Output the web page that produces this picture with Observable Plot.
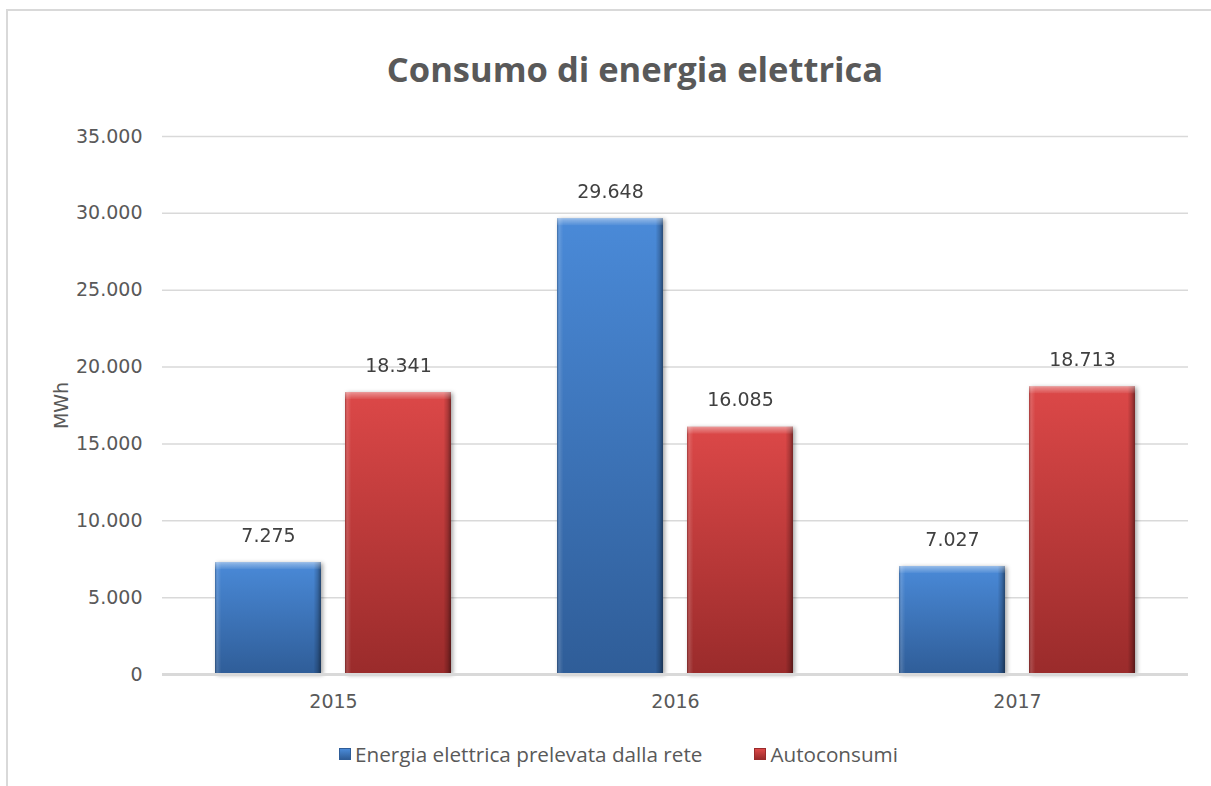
<!DOCTYPE html>
<html lang="it">
<head>
<meta charset="utf-8">
<script src="https://cdn.jsdelivr.net/npm/d3@7"></script>
<script src="https://cdn.jsdelivr.net/npm/@observablehq/plot@0.6"></script>
<style>
  html, body { margin: 0; padding: 0; background: #fff; overflow: hidden; }
  body { width: 1211px; height: 786px; position: relative; }
  #frame {
    position: absolute; left: 6px; top: 9px; right: 0; bottom: 0;
    border-left: 2px solid #d9d9d9; border-top: 2px solid #d9d9d9;
  }
  #title {
    position: absolute; left: 0; top: 47px; width: 1270px; text-align: center;
    font-family: "Open Sans", sans-serif; font-weight: 700; font-size: 34.5px; line-height: 44px;
    color: #595959;
  }
  #chart { position: absolute; left: 0; top: 110px; }
  #legend {
    position: absolute; left: 339px; top: 740px; display: flex; align-items: center;
    font-family: "Open Sans", sans-serif; font-size: 20.7px; color: #595959; line-height: 28px;
  }
  .item { display: flex; align-items: center; }
  .item + .item { margin-left: 52px; }
  .swatch { width: 12px; height: 12px; margin-right: 4px; box-sizing: border-box; }
</style>
</head>
<body>
<div id="frame"></div>
<div id="title">Consumo di energia elettrica</div>
<div id="chart"></div>
<div id="legend"></div>
<script>
// Electricity consumption (MWh) per year
const years = ["2015", "2016", "2017"];
const seriesNames = ["Energia elettrica prelevata dalla rete", "Autoconsumi"];
const prelevata = [7275, 29648, 7027];
const autoconsumi = [18341, 16085, 18713];

const seriesColors = {
  top: ["#4a8ad8", "#dc4848"],
  bottom: ["#2f5d98", "#9a2b2b"]
};

const data = years.flatMap((year, i) => [
  {year, series: seriesNames[0], value: prelevata[i]},
  {year, series: seriesNames[1], value: autoconsumi[i]}
]);

// Italian number format: 35.000
const it = d3.formatLocale({decimal: ",", thousands: ".", grouping: [3], currency: ["", " €"]});
const fmt = it.format(",d");

const chart = Plot.plot({
  width: 1211,
  height: 604,
  marginTop: 26,
  marginBottom: 40,
  marginLeft: 161,
  marginRight: 23,
  style: {fontFamily: "DejaVu Sans, sans-serif", fontSize: "19px", color: "#595959", background: "transparent"},
  fx: {domain: years, padding: 0, axis: null},
  x: {domain: seriesNames, paddingInner: 0.183, paddingOuter: 0.397, axis: null},
  y: {domain: [0, 35000], axis: null},
  color: {domain: seriesNames, range: ["url(#grad-blue)", "url(#grad-red)"]},
  marks: [
    Plot.gridY({ticks: 7, stroke: "#d9d9d9", strokeOpacity: 1, strokeWidth: 1.5}),
    Plot.axisY({
      ticks: 7, tickSize: 0, tickPadding: 20, tickFormat: fmt,
      label: "MWh", labelAnchor: "center", labelOffset: 108, labelArrow: "none",
      fill: "#595959"
    }),
    Plot.axisFx({anchor: "bottom", tickSize: 0, tickPadding: 20, label: null, fill: "#595959"}),
    Plot.barY(data, {fx: "year", x: "series", y: "value", fill: "series"}),
    // side shading of the bevelled bars
    Plot.barY(data, {fx: "year", x: "series", y: "value", fill: "url(#grad-edge)"}),
    // top bevel highlight
    Plot.barY(data, {fx: "year", x: "series", y1: "value", y2: "value", insetBottom: -7, fill: "url(#grad-top)"}),
    Plot.ruleY([0], {stroke: "#d9d9d9", strokeWidth: 3}),
    Plot.text(data, {
      fx: "year", x: "series", y: "value", text: d => fmt(d.value),
      dy: -27, fill: "#404040", fontSize: 19
    })
  ]
});

// gradient definitions used by the bars
const ns = "http://www.w3.org/2000/svg";
const defs = document.createElementNS(ns, "defs");
function linear(id, stops, horizontal) {
  const g = document.createElementNS(ns, "linearGradient");
  g.setAttribute("id", id);
  g.setAttribute("x1", "0"); g.setAttribute("y1", "0");
  g.setAttribute("x2", horizontal ? "1" : "0"); g.setAttribute("y2", horizontal ? "0" : "1");
  for (const [offset, color, opacity] of stops) {
    const s = document.createElementNS(ns, "stop");
    s.setAttribute("offset", offset);
    s.setAttribute("stop-color", color);
    s.setAttribute("stop-opacity", opacity ?? 1);
    g.appendChild(s);
  }
  defs.appendChild(g);
}
linear("grad-blue", [[0, seriesColors.top[0]], [1, seriesColors.bottom[0]]]);
linear("grad-red", [[0, seriesColors.top[1]], [1, seriesColors.bottom[1]]]);
linear("grad-edge", [
  [0, "#000", 0.25], [0.02, "#fff", 0.15], [0.06, "#fff", 0],
  [0.93, "#000", 0], [0.97, "#000", 0.2], [1, "#000", 0.45]
], true);
linear("grad-top", [[0, "#fff", 0.45], [0.3, "#fff", 0.3], [1, "#fff", 0.05]]);
chart.insertBefore(defs, chart.firstChild);

// soft shadow behind the bars
const barGroups = chart.querySelectorAll('g[aria-label="bar"]');
if (barGroups.length) barGroups[0].style.filter = "drop-shadow(2px 1px 2px rgba(0,0,0,0.35))";

document.getElementById("chart").appendChild(chart);

// legend
const legend = document.getElementById("legend");
seriesNames.forEach((name, i) => {
  const item = document.createElement("div");
  item.className = "item";
  const sw = document.createElement("div");
  sw.className = "swatch";
  sw.style.background = `linear-gradient(${seriesColors.top[i]}, ${seriesColors.bottom[i]})`;
  sw.style.border = `1px solid ${seriesColors.bottom[i]}`;
  const label = document.createElement("span");
  label.textContent = name;
  item.append(sw, label);
  legend.appendChild(item);
});
</script>
</body>
</html>
